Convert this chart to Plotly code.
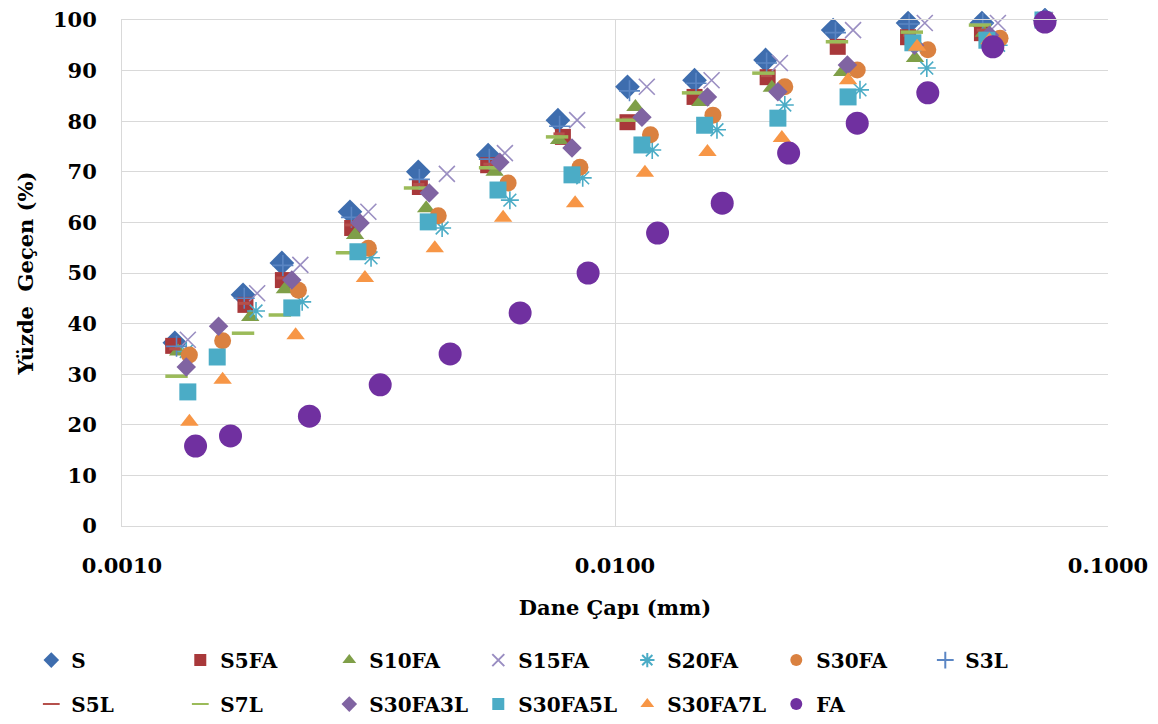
import plotly.graph_objects as go

S_x = [0.00128, 0.00176, 0.00211, 0.0029, 0.00399, 0.00553, 0.00766, 0.0106, 0.0145, 0.0202, 0.0277, 0.0393, 0.0555, 0.0745]
S_y = [36.2, 45.7, 52.0, 62.1, 70.0, 73.3, 80.2, 86.8, 88.1, 92.1, 98.0, 99.4, 99.4, 100]

S5FA_x = [0.00127, 0.00178, 0.00212, 0.00293, 0.00402, 0.00553, 0.00784, 0.0106, 0.0145, 0.0204, 0.0283, 0.0393, 0.0555, 0.0745]
S5FA_y = [35.6, 43.7, 48.6, 58.9, 67.0, 71.3, 76.9, 79.8, 84.8, 88.7, 94.7, 96.6, 97.4, 100]

S10FA_x = [0.0013, 0.00182, 0.00214, 0.00297, 0.00414, 0.0057, 0.0077, 0.011, 0.0149, 0.0208, 0.0289, 0.0406, 0.056, 0.0745]
S10FA_y = [34.5, 41.3, 46.8, 57.5, 62.8, 70.0, 76.3, 82.8, 83.8, 86.6, 89.7, 92.5, 97.5, 100]

S15FA_x = [0.00136, 0.00188, 0.0023, 0.00316, 0.00456, 0.00598, 0.00838, 0.0116, 0.0157, 0.0216, 0.0304, 0.0425, 0.0598, 0.0745]
S15FA_y = [36.8, 46.0, 51.6, 62.1, 69.6, 73.7, 80.2, 86.8, 88.1, 91.5, 98.0, 99.4, 99.4, 100]

S20FA_x = [0.00135, 0.00187, 0.00232, 0.0032, 0.00446, 0.00612, 0.0086, 0.0119, 0.0161, 0.0221, 0.0314, 0.0429, 0.06, 0.0745]
S20FA_y = [34.5, 42.5, 44.3, 53.0, 58.9, 64.4, 68.8, 74.3, 78.3, 83.2, 86.2, 90.5, 95.0, 100]

S30FA_x = [0.00137, 0.0016, 0.00228, 0.00316, 0.00438, 0.00607, 0.00849, 0.0118, 0.0158, 0.0221, 0.031, 0.0431, 0.0604, 0.0745]
S30FA_y = [33.8, 36.6, 46.6, 54.9, 61.3, 67.8, 70.9, 77.3, 81.2, 86.8, 90.1, 94.1, 96.4, 100]

S3L_x = [0.00129, 0.00177, 0.00212, 0.00292, 0.00401, 0.00556, 0.00772, 0.0107, 0.0146, 0.0203, 0.028, 0.0395, 0.0557, 0.0745]
S3L_y = [35.5, 45.0, 51.5, 61.0, 68.5, 72.5, 79.0, 86.0, 87.5, 91.5, 97.5, 99.2, 99.3, 100]

S5L_x = [0.00128, 0.00177, 0.00211, 0.00291, 0.004, 0.00555, 0.0077, 0.0106, 0.0145, 0.0203, 0.028, 0.0394, 0.0556, 0.0745]
S5L_y = [35.0, 44.0, 49.0, 59.5, 67.5, 71.5, 77.5, 80.5, 85.5, 89.0, 95.5, 97.0, 98.0, 100]

S7L_x = [0.00129, 0.00176, 0.00209, 0.00286, 0.00393, 0.00558, 0.00763, 0.01057, 0.0144, 0.02, 0.0282, 0.04, 0.055, 0.0745]
S7L_y = [29.6, 38.1, 41.7, 54.0, 66.8, 70.8, 76.9, 80.2, 85.6, 89.5, 95.7, 97.6, 99.0, 100]

S30FA3L_x = [0.00135, 0.00157, 0.00221, 0.00304, 0.0042, 0.00584, 0.00818, 0.01134, 0.0154, 0.0214, 0.0296, 0.0405, 0.0575, 0.0745]
S30FA3L_y = [31.4, 39.5, 48.6, 59.9, 65.8, 71.9, 74.7, 80.8, 84.8, 85.8, 91.1, 95.0, 97.0, 100]

S30FA5L_x = [0.00136, 0.00156, 0.00221, 0.00301, 0.00418, 0.00579, 0.00818, 0.01134, 0.0152, 0.0214, 0.0297, 0.0402, 0.0568, 0.0738]
S30FA5L_y = [26.5, 33.4, 43.1, 54.2, 60.1, 66.4, 69.4, 75.3, 79.2, 80.6, 84.8, 95.5, 96.0, 100]

S30FA7L_x = [0.00137, 0.0016, 0.00225, 0.00311, 0.00431, 0.00593, 0.0083, 0.0115, 0.0154, 0.0218, 0.0297, 0.041, 0.0575, 0.0745]
S30FA7L_y = [20.6, 28.9, 37.7, 49.0, 54.9, 60.9, 63.8, 69.8, 73.9, 76.7, 88.1, 94.7, 96.0, 100]

FA_x = [0.00141, 0.00166, 0.0024, 0.00334, 0.00463, 0.00642, 0.00882, 0.0122, 0.0165, 0.0225, 0.031, 0.0431, 0.0584, 0.0745]
FA_y = [15.8, 17.8, 21.7, 27.9, 34.0, 42.1, 50.0, 57.9, 63.8, 73.7, 79.6, 85.6, 94.7, 99.6]

x_tickvals = [0.001, 0.01, 0.1]
x_ticktext = ["0.0010", "0.0100", "0.1000"]

FONT = "DejaVu Serif"

# name, x, y, symbol, size, color, line width, legend
series = [
    ("S", S_x, S_y, "diamond", 19, "#3E6DAE", 0, "legend"),
    ("S5FA", S5FA_x, S5FA_y, "square", 16, "#A8383A", 0, "legend"),
    ("S10FA", S10FA_x, S10FA_y, "triangle-up", 16, "#7F9F48", 0, "legend"),
    ("S15FA", S15FA_x, S15FA_y, "x-thin-open", 16, "#9A8EC2", 1.6, "legend"),
    ("S20FA", S20FA_x, S20FA_y, "asterisk-open", 15, "#4BACC6", 1.6, "legend"),
    ("S30FA", S30FA_x, S30FA_y, "circle", 17, "#DA8140", 0, "legend"),
    ("S3L", S3L_x, S3L_y, "cross-thin-open", 15, "#5B86C4", 1.6, "legend"),
    ("S5L", S5L_x, S5L_y, "line-ew-open", 8, "#B5504C", 3, "legend2"),
    ("S7L", S7L_x, S7L_y, "line-ew-open", 16, "#9BBB59", 3.5, "legend2"),
    ("S30FA3L", S30FA3L_x, S30FA3L_y, "diamond", 15, "#8064A2", 0, "legend2"),
    ("S30FA5L", S30FA5L_x, S30FA5L_y, "square", 17, "#4BACC6", 0, "legend2"),
    ("S30FA7L", S30FA7L_x, S30FA7L_y, "triangle-up", 16, "#F79646", 0, "legend2"),
    ("FA", FA_x, FA_y, "circle", 23, "#7030A0", 0, "legend2"),
]

fig = go.Figure()
for name, xs, ys, sym, size, color, lw, lg in series:
    fig.add_trace(go.Scatter(
        x=xs, y=ys, mode="markers", name=name, legend=lg, cliponaxis=False,
        marker=dict(symbol=sym, size=size, color=color,
                    line=dict(color=color, width=lw)),
    ))

legend_common = dict(
    orientation="h", xanchor="left", yanchor="middle",
    font=dict(family=FONT, size=20, color="#000000", weight="bold"),
    entrywidth=104, bgcolor="rgba(0,0,0,0)", traceorder="normal",
    itemsizing="constant",
)

# page body adds an 8px offset; the figure is sized/margined to compensate
fig.update_layout(
    width=1150, height=716,
    margin=dict(l=114, r=50, t=12, b=198, autoexpand=False),
    paper_bgcolor="white", plot_bgcolor="white",
    font=dict(family=FONT, size=20, color="#000000"),
    showlegend=True,
    legend=dict(x=-0.092, y=-0.265, **legend_common),
    legend2=dict(x=-0.092, y=-0.352, **legend_common),
    xaxis=dict(
        type="log", range=[-3, -1], tickvals=x_tickvals, ticktext=x_ticktext,
        showgrid=True, gridcolor="#D9D9D9", gridwidth=1,
        showline=True, linecolor="#D9D9D9", linewidth=1, mirror=True,
        zeroline=False, ticks="", ticklabelstandoff=21, automargin=False,
        ticklabeloverflow="allow",
        tickfont=dict(family=FONT, size=21, color="#000000", weight="bold"),
        title=dict(text="Dane Çapı (mm)", standoff=23,
                   font=dict(family=FONT, size=21, color="#000000", weight="bold")),
    ),
    yaxis=dict(
        range=[0, 100], dtick=10, tick0=0,
        showgrid=True, gridcolor="#D9D9D9", gridwidth=1,
        showline=True, linecolor="#D9D9D9", linewidth=1,
        zeroline=False, ticks="", ticklabelstandoff=20, automargin=False,
        ticklabeloverflow="allow",
        tickfont=dict(family=FONT, size=21, color="#000000", weight="bold"),
        title=dict(text="Yüzde\u00a0 Geçen (%)", standoff=13,
                   font=dict(family=FONT, size=21, color="#000000", weight="bold")),
    ),
)

fig.write_html("out.html")
